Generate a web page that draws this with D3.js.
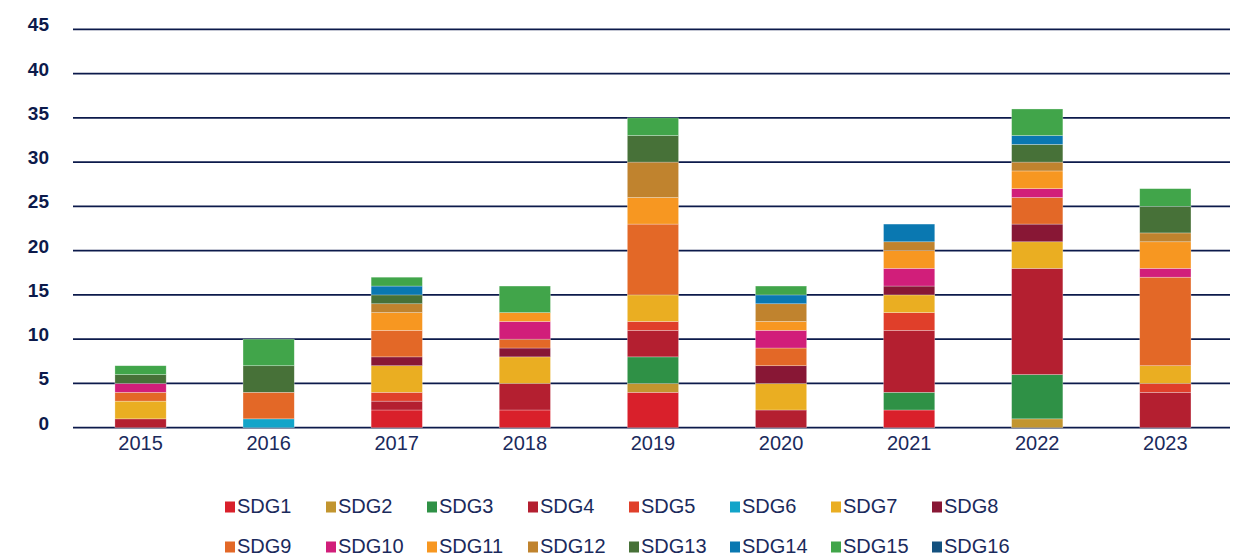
<!DOCTYPE html>
<html><head><meta charset="utf-8">
<script src="https://cdn.jsdelivr.net/npm/d3@7"></script>
<style>html,body{margin:0;padding:0;background:#fff;} svg{display:block;}</style>
</head><body>
<svg id="chart" width="1239" height="558"></svg>
<script>
const years = ["2015","2016","2017","2018","2019","2020","2021","2022","2023"];
const SDG1  = [0,0,2,2,4,0,2,0,0];
const SDG2  = [0,0,0,0,1,0,0,1,0];
const SDG3  = [0,0,0,0,3,0,2,5,0];
const SDG4  = [1,0,1,3,3,2,7,12,4];
const SDG5  = [0,0,1,0,1,0,2,0,1];
const SDG6  = [0,1,0,0,0,0,0,0,0];
const SDG7  = [2,0,3,3,3,3,2,3,2];
const SDG8  = [0,0,1,1,0,2,1,2,0];
const SDG9  = [1,3,3,1,8,2,0,3,10];
const SDG10 = [1,0,0,2,0,2,2,1,1];
const SDG11 = [0,0,2,1,3,1,2,2,3];
const SDG12 = [0,0,1,0,4,2,1,1,1];
const SDG13 = [1,3,1,0,3,0,0,2,3];
const SDG14 = [0,0,1,0,0,1,2,1,0];
const SDG15 = [1,3,1,3,2,1,0,3,2];
const SDG16 = [0,0,0,0,0,0,0,0,0];
const seriesNames = ["SDG1","SDG2","SDG3","SDG4","SDG5","SDG6","SDG7","SDG8","SDG9","SDG10","SDG11","SDG12","SDG13","SDG14","SDG15","SDG16"];
const seriesValues = [SDG1,SDG2,SDG3,SDG4,SDG5,SDG6,SDG7,SDG8,SDG9,SDG10,SDG11,SDG12,SDG13,SDG14,SDG15,SDG16];
const colors = ["#d9202b","#c2952f","#2f9146","#b41f30","#e03f2a","#12a4c9","#eaae22","#881735","#e36827","#d11e7a","#f79721","#c0832e","#477138","#0a78b1","#41a54a","#14517f"];
const yTicks = [0,5,10,15,20,25,30,35,40,45];

const svg = d3.select("#chart");
const navy = "#0c1a4b";
const font = "Liberation Sans, Arial, Helvetica, sans-serif";

const x = d3.scaleBand().domain(years).range([76.5, 1229.4]).paddingInner(0.6).paddingOuter(0.3);
const y = d3.scaleLinear().domain([0,45]).range([427.7, 29.3]);

// grid lines
svg.append("g").selectAll("line").data(yTicks).join("line")
  .attr("x1", 73).attr("x2", 1230)
  .attr("y1", d => y(d)).attr("y2", d => y(d))
  .attr("stroke", navy).attr("stroke-width", 1.8);

// y labels
svg.append("g").selectAll("text").data(yTicks).join("text")
  .attr("x", 49).attr("y", d => y(d) - 3)
  .attr("text-anchor", "end").attr("dominant-baseline", "middle")
  .attr("font-family", font)
  .attr("font-weight", "bold").attr("font-size", 19)
  .attr("fill", navy).text(d => d);

// stacked data
const table = years.map((yr, i) => {
  const o = {year: yr};
  seriesNames.forEach((s, j) => o[s] = seriesValues[j][i]);
  return o;
});
const stack = d3.stack().keys(seriesNames)(table);

const layers = svg.append("g").selectAll("g").data(stack).join("g")
  .attr("fill", (d, i) => colors[i]);
layers.selectAll("rect").data(d => d.filter(p => p[1] - p[0] > 0)).join("rect")
  .attr("x", d => x(d.data.year))
  .attr("width", x.bandwidth())
  .attr("y", d => y(d[1]))
  .attr("height", d => y(d[0]) - y(d[1]))
  .attr("stroke", "rgba(255,255,255,0.45)").attr("stroke-width", 0.6);

// x labels
svg.append("g").selectAll("text").data(years).join("text")
  .attr("x", d => x(d) + x.bandwidth()/2).attr("y", 450)
  .attr("text-anchor", "middle")
  .attr("font-family", font)
  .attr("font-size", 20).attr("fill", "#1a2a5c").text(d => d);

// legend
const legend = svg.append("g");
const lg = legend.selectAll("g").data(seriesNames).join("g")
  .attr("transform", (d, i) => `translate(${225 + (i % 8) * 101},${507 + Math.floor(i / 8) * 40})`);
lg.append("rect").attr("x", 0).attr("y", -5.5).attr("width", 10).attr("height", 11)
  .attr("fill", (d, i) => colors[i]);
lg.append("text").attr("x", 12).attr("y", 0)
  .attr("dominant-baseline", "middle").attr("dy", 1)
  .attr("font-family", font)
  .attr("font-size", 20).attr("fill", "#1a2a5c").text(d => d);
</script>
</body></html>
